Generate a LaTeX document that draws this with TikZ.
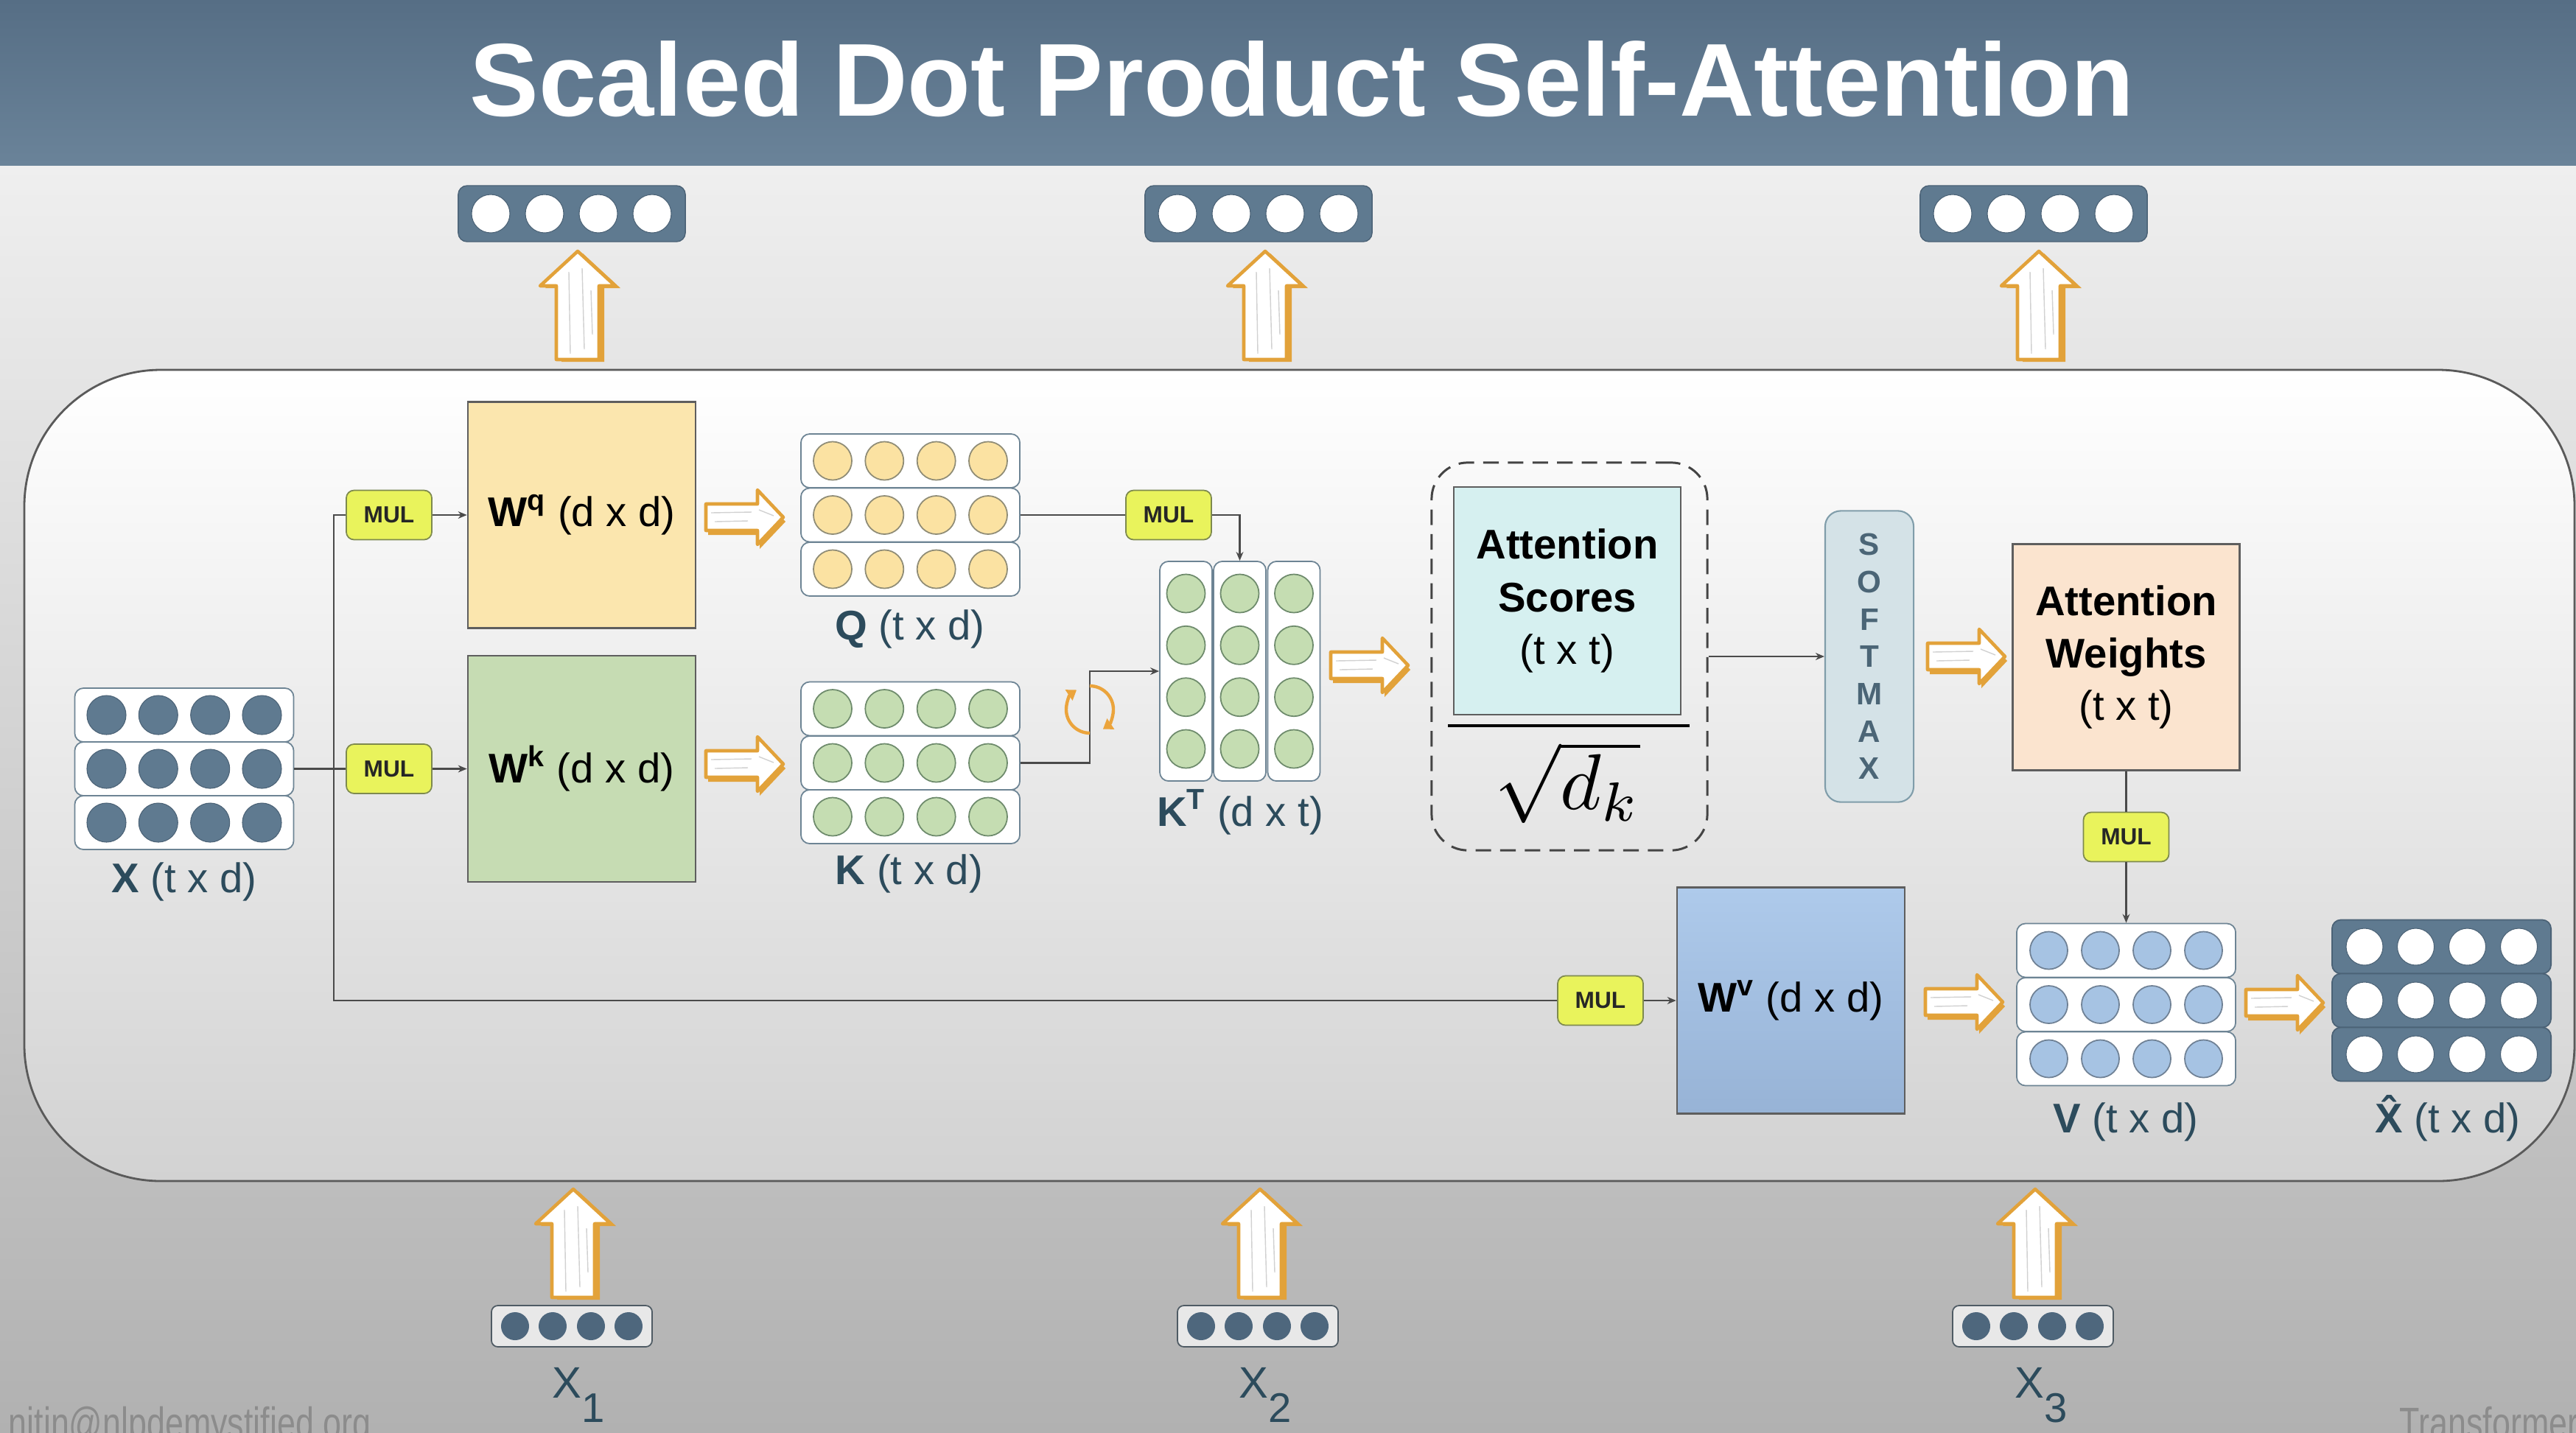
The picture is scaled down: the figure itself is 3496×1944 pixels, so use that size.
\documentclass[tikz,border=0pt]{standalone}
\usepackage{fontspec}
\setmainfont{Liberation Sans}
\usetikzlibrary{arrows.meta,calc}
\definecolor{barA}{HTML}{566E85}
\definecolor{barB}{HTML}{6A8399}
\definecolor{bgA}{HTML}{EFEFEF}
\definecolor{bgM}{HTML}{E3E3E3}
\definecolor{bgB}{HTML}{B1B1B1}
\definecolor{frameB}{HTML}{D2D2D2}
\definecolor{frameE}{HTML}{5A5A5A}
\definecolor{edge}{HTML}{4A4A4A}
\definecolor{boxedge}{HTML}{5E5E5E}
\definecolor{slate}{HTML}{5F7A90}
\definecolor{slateD}{HTML}{4B6276}
\definecolor{rowedge}{HTML}{6D8494}
\definecolor{labc}{HTML}{2C4B5C}
\definecolor{mulfill}{HTML}{E9F35C}
\definecolor{muledge}{HTML}{7E8A4E}
\definecolor{wqfill}{HTML}{FBE6AE}
\definecolor{wkfill}{HTML}{C6DCB3}
\definecolor{wvA}{HTML}{AECAEB}
\definecolor{wvB}{HTML}{97B3D6}
\definecolor{qfill}{HTML}{FBE2A2}
\definecolor{qedge}{HTML}{8F8C76}
\definecolor{kfill}{HTML}{C5DDB2}
\definecolor{kedge}{HTML}{6E8B6C}
\definecolor{vfill}{HTML}{A6C3E3}
\definecolor{vedge}{HTML}{6F8195}
\definecolor{scfill}{HTML}{D6F0F0}
\definecolor{awfill}{HTML}{FBE4CF}
\definecolor{smfill}{HTML}{D4E2E7}
\definecolor{smedge}{HTML}{809DAA}
\definecolor{smtext}{HTML}{4B6576}
\definecolor{goldc}{HTML}{E2A23A}
\definecolor{rotc}{HTML}{EBA43C}
\definecolor{footc}{HTML}{8C8C8C}
\definecolor{inboxc}{HTML}{E8E8E8}
\definecolor{inedge}{HTML}{4F5B64}
\definecolor{incirc}{HTML}{4E677D}
\definecolor{dashc}{HTML}{444444}
\tikzset{
 uparr/.pic={
  \begin{scope}[shift={(7,3)}]
   \fill[goldc] (0,-73) -- (51,-26) -- (29,-26) -- (29,74) -- (-29,74) -- (-29,-26) -- (-51,-26) -- cycle;
  \end{scope}
  \filldraw[fill=white, draw=goldc, line width=1.3pt, line join=round] (0,-73) -- (51,-26) -- (29,-26) -- (29,74) -- (-29,74) -- (-29,-26) -- (-51,-26) -- cycle;
  \draw[black!18, line width=0.4pt] (-12,-45) -- (-10,66) (6,-50) -- (9,60) (18,-20) -- (20,40);
 },
 rarr/.pic={
  \begin{scope}[shift={(3,6)}]
   \fill[goldc] (-52,-18) -- (18,-18) -- (18,-37) -- (53,0) -- (18,37) -- (18,18) -- (-52,18) -- cycle;
  \end{scope}
  \filldraw[fill=white, draw=goldc, line width=1.3pt, line join=round] (-52,-18) -- (18,-18) -- (18,-37) -- (53,0) -- (18,37) -- (18,18) -- (-52,18) -- cycle;
  \draw[black!18, line width=0.4pt] (-45,-6) -- (10,-7) (-40,6) -- (5,5) (20,-10) -- (40,-2);
 }
}
\begin{document}
\begin{tikzpicture}[x=0.01cm, y=-0.01cm,
 conn/.style={draw=edge, line width=0.7pt},
 tip/.style={-{Stealth[length=3.4pt,width=2.8pt]}},
 mulbox/.style={draw=muledge, fill=mulfill, line width=0.5pt, rounded corners=3pt, minimum width=1.16cm, minimum height=0.67cm, inner sep=0pt, font=\fontsize{9}{10}\selectfont\bfseries, text=black!85},
 wbox/.style={draw=boxedge, line width=0.7pt, minimum width=3.09cm, minimum height=3.07cm, inner sep=0pt, font=\fontsize{16}{20.3}\selectfont, align=center},
 rowbox/.style={draw=rowedge, fill=white, line width=0.5pt, rounded corners=3.4pt, minimum width=2.97cm, minimum height=0.73cm, inner sep=0pt},
 colbox/.style={draw=rowedge, fill=white, line width=0.5pt, rounded corners=3.4pt, minimum width=0.71cm, minimum height=2.98cm, inner sep=0pt},
 outrow/.style={draw=slateD, fill=slate, line width=0.5pt, rounded corners=3.4pt, minimum width=2.97cm, minimum height=0.73cm, inner sep=0pt},
 outvec/.style={draw=slateD, fill=slate, line width=0.4pt, rounded corners=3.4pt, minimum width=3.08cm, minimum height=0.76cm, inner sep=0pt},
 invec/.style={draw=inedge, fill=inboxc, line width=0.5pt, rounded corners=2.5pt, minimum width=2.18cm, minimum height=0.56cm, inner sep=0pt},
 lbl/.style={anchor=base, text=labc, font=\fontsize{16}{19}\selectfont, inner sep=0pt},
 xlbl/.style={anchor=base, text=labc, font=\fontsize{17}{20}\selectfont, inner sep=0pt},
 foot/.style={anchor=base west, text=footc, font=\fontsize{17}{20}\selectfont, inner sep=0pt}
]
\useasboundingbox (0,0) rectangle (3496,1944);
\clip (0,0) rectangle (3496,1944);
% background and title bar
\shade[top color=bgA, middle color=bgM, bottom color=bgB] (0,223) rectangle (3496,1944);
\shade[top color=barA, bottom color=barB] (0,0) rectangle (3496,224);
\node[anchor=base, text=white, font=\fontsize{40}{48}\selectfont\bfseries, inner sep=0pt] (title) at (1767,157) {Scaled Dot Product Self-Attention};
% big frame
\path[draw=frameE, line width=0.8pt, top color=white, middle color=white, bottom color=frameB, rounded corners=1.85cm] (33,502) rectangle (3494,1603);

% output vectors (top)
\foreach \n/\cx in {o1/776, o2/1708, o3/2760} {
  \node[outvec] (\n) at (\cx,290) {};
  \foreach \d in {-110,-37,36,109}
    \filldraw[fill=white, draw=slateD, line width=0.3pt] ($(\n)+(\d,0)$) circle[radius=0.26cm];
}
\pic at (784,414) {uparr};
\pic at (1717,414) {uparr};
\pic at (2767,414) {uparr};

% input vectors (bottom)
\pic at (778,1687) {uparr};
\pic at (1710,1687) {uparr};
\pic at (2762,1687) {uparr};
\foreach \n/\cx in {i1/776, i2/1707, i3/2759} {
  \node[invec] (\n) at (\cx,1800) {};
  \foreach \d in {-77,-26,26,77}
    \fill[incirc] ($(\n)+(\d,0)$) circle[radius=0.19cm];
}
\node[xlbl] (x1lab) at (785,1897) {X\raisebox{-9.4pt}{\fontsize{16}{19}\selectfont 1}};
\node[xlbl] (x2lab) at (1717,1897) {X\raisebox{-9.4pt}{\fontsize{16}{19}\selectfont 2}};
\node[xlbl] (x3lab) at (2770,1897) {X\raisebox{-9.4pt}{\fontsize{16}{19}\selectfont 3}};

% footer
\node[foot] (foot1) at (11,1952) {\scalebox{0.75}[1]{nitin@nlpdemystified.org}};
\node[foot] (foot2) at (3256,1952) {\scalebox{0.75}[1]{Transformer}};

% ---------- main diagram ----------
% X matrix
\foreach \n/\cy in {xr1/970.5, xr2/1043.5, xr3/1116.5} {
  \node[rowbox] (\n) at (250,\cy) {};
  \foreach \d in {-105.5,-35.2,35.2,105.5}
    \filldraw[fill=slate, draw=slateD, line width=0.3pt] ($(\n)+(\d,0)$) circle[radius=0.265cm];
}
\node[lbl] (xlab) at (250,1211) {\textbf{X} (t x d)};

% MUL boxes
\node[mulbox] (mul1) at (528,699) {MUL};
\node[mulbox] (mul2) at (528,1043.5) {MUL};
\node[mulbox] (mul3) at (1586,699) {MUL};
\node[mulbox] (mul4) at (2885.5,1136) {MUL};
\node[mulbox] (mul5) at (2172,1358) {MUL};

% weight boxes
\node[wbox, fill=wqfill] (wq) at (789.5,699) {\textbf{W\textsuperscript{q}} (d x d)};
\node[wbox, fill=wkfill] (wk) at (789.5,1043.5) {\textbf{W\textsuperscript{k}} (d x d)};
\node[wbox, top color=wvA, bottom color=wvB] (wv) at (2430.5,1358) {\textbf{W\textsuperscript{v}} (d x d)};

% Q matrix
\foreach \n/\cy in {qr1/625.5, qr2/699, qr3/772.5} {
  \node[rowbox] (\n) at (1235.5,\cy) {};
  \foreach \d in {-105.5,-35.2,35.2,105.5}
    \filldraw[fill=qfill, draw=qedge, line width=0.5pt] ($(\n)+(\d,0)$) circle[radius=0.26cm];
}
\node[lbl] (qlab) at (1235,868) {\textbf{Q} (t x d)};

% K matrix
\foreach \n/\cy in {kr1/962, kr2/1035.5, kr3/1108.5} {
  \node[rowbox] (\n) at (1235.5,\cy) {};
  \foreach \d in {-105.5,-35.2,35.2,105.5}
    \filldraw[fill=kfill, draw=kedge, line width=0.5pt] ($(\n)+(\d,0)$) circle[radius=0.26cm];
}
\node[lbl] (klab) at (1234,1200) {\textbf{K} (t x d)};

% K transpose
\foreach \n/\cx in {kc1/1609.5, kc2/1682.5, kc3/1756} {
  \node[colbox] (\n) at (\cx,911) {};
  \foreach \d in {-105.5,-35.2,35.2,105.5}
    \filldraw[fill=kfill, draw=kedge, line width=0.5pt] ($(\n)+(0,\d)$) circle[radius=0.26cm];
}
\node[lbl] (ktlab) at (1683,1121) {\textbf{K\textsuperscript{T}} (d x t)};

% scaled scores
\node[draw=dashc, dash pattern=on 6pt off 3.5pt, line width=0.85pt, rounded corners=14pt, minimum width=3.74cm, minimum height=5.26cm, inner sep=0pt] (dbox) at (2130,891) {};
\node[wbox, fill=scfill, minimum width=3.08cm, minimum height=3.09cm] (sc) at (2127,815.5) {\textbf{Attention}\\\textbf{Scores}\\(t x t)};
\draw[line width=1.4pt, black] (1965,985) -- (2293,985);
\node (sq) at (2127,1062) {\scalebox{3.05}{$\sqrt{d_k}$}};

% softmax
\node[draw=smedge, fill=smfill, rounded corners=6pt, minimum width=1.2cm, minimum height=3.95cm, line width=0.6pt, align=center, font=\fontsize{12}{14.4}\selectfont\bfseries, text=smtext, inner sep=0pt] (sm) at (2537,891) {S\\O\\F\\T\\M\\A\\X};

% attention weights
\node[wbox, fill=awfill, minimum width=3.08cm] (aw) at (2885.5,892) {\textbf{Attention}\\\textbf{Weights}\\(t x t)};

% V matrix
\foreach \n/\cy in {vr1/1290, vr2/1363.5, vr3/1437} {
  \node[rowbox] (\n) at (2885.5,\cy) {};
  \foreach \d in {-105,-35,35,105}
    \filldraw[fill=vfill, draw=vedge, line width=0.5pt] ($(\n)+(\d,0)$) circle[radius=0.255cm];
}
\node[lbl] (vlab) at (2885,1537) {\textbf{V} (t x d)};

% X hat
\foreach \n/\cy in {hr1/1285, hr2/1358, hr3/1431} {
  \node[outrow] (\n) at (3313.5,\cy) {};
  \foreach \d in {-104.5,-35,35,105}
    \filldraw[fill=white, draw=slateD, line width=0.3pt] ($(\n)+(\d,0)$) circle[radius=0.25cm];
}
\node[lbl] (xhlab) at (3322,1537) {\textbf{\accent"02C6 X} (t x d)};

% connectors
\coordinate (jx) at (453,1043.5);
\coordinate (rot) at (1479,963);
\draw[conn] (xr2.east) -- (mul2.west);
\draw[conn] (mul1.west) -| (jx) |- (mul5.west);
\draw[conn,tip] (mul1.east) -- (wq.west);
\draw[conn,tip] (mul2.east) -- (wk.west);
\draw[conn,tip] (mul5.east) -- (wv.west);
\draw[conn] (qr2.east) -- (mul3.west);
\draw[conn,tip] (mul3.east) -| (kc2.north);
\draw[conn,tip] (kr2.east) -- (kr2.east -| rot) |- (kc1.west);
\draw[conn,tip] (dbox.east) -- (sm.west);
\draw[conn] (aw.south) -- (mul4.north);
\draw[conn,tip] (mul4.south) -- (vr1.north);

% transpose icon
\draw[rotc, line width=1.25pt, -{Triangle[length=3.6pt,width=4.8pt]}] ($(rot)+(0,32)$) arc[start angle=270, end angle=124, radius=0.32cm];
\draw[rotc, line width=1.25pt, -{Triangle[length=3.6pt,width=4.8pt]}] ($(rot)+(0,-32)$) arc[start angle=90, end angle=-56, radius=0.32cm];

% hollow arrows
\pic at (1010,702) {rarr};
\pic at (1010,1037) {rarr};
\pic at (1858,903) {rarr};
\pic at (2668,891) {rarr};
\pic at (2665,1360) {rarr};
\pic at (3100,1361) {rarr};
\end{tikzpicture}
\end{document}
